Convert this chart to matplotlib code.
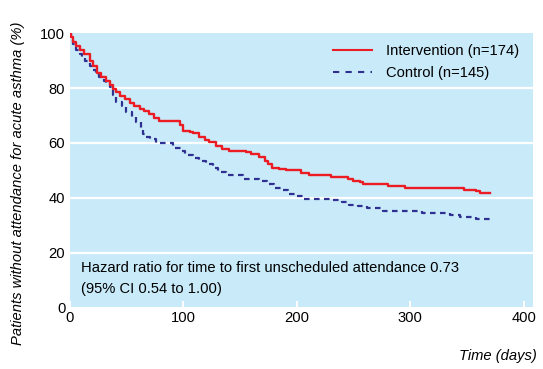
import matplotlib
matplotlib.use("Agg")
import matplotlib.pyplot as plt
from matplotlib.lines import Line2D

# ---- data ----
int_days = [0, 1, 3, 6, 9, 13, 18, 21, 24, 28, 32.5, 35.5, 38.4, 41.3, 44.2, 49.1, 53,
            56.9, 61.8, 65.7, 69.6, 74.5, 78.4, 96.9, 99.8, 105.7, 108.6, 114.5, 119.3,
            123.2, 129.1, 134, 140.8, 155.4, 160.3, 167.1, 172, 174.9, 178.8, 184.7,
            190.5, 204.2, 211, 230.5, 245.2, 250, 255.9, 258.8, 280.3, 295.9, 347.6,
            358.3, 361.2, 370]
int_surv = [100, 98.5, 97, 95.5, 94, 92.5, 90, 88, 85.5, 84, 82.5, 81, 79.5, 78.5, 77,
            76, 74.5, 73.5, 72.5, 71.5, 70.5, 69, 68, 66.5, 64.5, 64, 63.5, 62, 61, 60.3,
            59, 57.8, 57, 56.5, 55.8, 54.7, 53.5, 52.3, 51, 50.4, 50, 49, 48.2, 47.6,
            46.8, 46.2, 45.6, 45, 44.1, 43.5, 42.9, 42.3, 41.8, 41.8]

ctrl_days = [0, 1, 3, 6, 9, 11, 14, 18, 21, 23, 26, 30, 32.5, 35.5, 38.4, 41.3, 46.2,
             50.1, 55, 58.9, 62.8, 64.7, 67.7, 70.6, 76.4, 91, 98.9, 101.8, 108.6, 114.5,
             120.3, 126.2, 131, 137.9, 152.5, 167.1, 174, 179.8, 186.6, 192.5, 200.3,
             206.1, 232.5, 240.3, 246.1, 253.9, 261.7, 276.4, 310.5, 334.9, 343.7, 358.3,
             370]
ctrl_surv = [100, 98, 96, 94, 92.5, 91.5, 90, 88, 86.5, 85.5, 84, 82.7, 81.5, 80.3, 77.5,
             75, 73.6, 71.2, 69.3, 67.5, 65, 63.2, 62.3, 61.4, 60, 58.3, 57.2, 55.7, 54.5,
             53.3, 52.2, 50.7, 49.4, 48.2, 47, 46.1, 44.9, 43.4, 42.7, 41.2, 40.6, 39.4,
             39, 38.4, 37.4, 36.9, 36.1, 35.1, 34.5, 33.6, 32.9, 32.2, 32.2]

x_ticks = [0, 100, 200, 300, 400]
y_ticks = [0, 20, 40, 60, 80, 100]
series_labels = ["Intervention (n=174)", "Control (n=145)"]
note_lines = ["Hazard ratio for time to first unscheduled attendance 0.73",
              "(95% CI 0.54 to 1.00)"]

# ---- style ----
plt.rcParams['font.family'] = ['Liberation Sans Narrow', 'Liberation Sans', 'DejaVu Sans']
RED = "#ec1c24"
BLUE = "#2e3192"
BG = "#c9eaf9"
FS = 10.6

fig = plt.figure(figsize=(5.43, 3.69), dpi=100)
ax = fig.add_axes([69.5/543, 1 - 307.3/369, 463.2/543, 274/369])
ax.set_facecolor(BG)
for s in ax.spines.values():
    s.set_visible(False)

ax.set_xlim(0, 408)
ax.set_ylim(0, 100)
for yv in y_ticks[1:-1]:
    ax.axhline(yv, color="white", lw=1.6, zorder=1)

ax.step(int_days, int_surv, where="post", color=RED, lw=1.7, zorder=3)
ax.step(ctrl_days, ctrl_surv, where="post", color=BLUE, lw=1.6, zorder=2,
        linestyle=(0, (2.5, 2.0)))

ax.set_xticks(x_ticks)
ax.set_yticks(y_ticks)
ax.tick_params(axis="x", direction="in", length=4, width=1.5, color="white",
               labelsize=FS, pad=3)
ax.tick_params(axis="y", length=0, labelsize=FS, pad=3)

handles = [Line2D([], [], color=RED, lw=1.5),
           Line2D([], [], color=BLUE, lw=1.5, linestyle=(0, (3, 3)))]
leg = ax.legend(handles, series_labels, loc="upper right", frameon=False,
                fontsize=FS, handlelength=2.6, handletextpad=1.0, labelspacing=0.55,
                bbox_to_anchor=(1.0, 1.01))

ax.text(10.5, 14.3, note_lines[0], fontsize=FS, va="center", ha="left")
ax.text(10.5, 6.6, note_lines[1], fontsize=FS, va="center", ha="left")

fig.text(18/543, 1 - 183/369, "Patients without attendance for acute asthma (%)",
         rotation=90, ha="center", va="center", fontsize=FS, style="italic")
fig.text(537/543, 1 - 356/369, "Time (days)", ha="right", va="center",
         fontsize=FS, style="italic")

fig.savefig("out.png", dpi=100, facecolor="white")
